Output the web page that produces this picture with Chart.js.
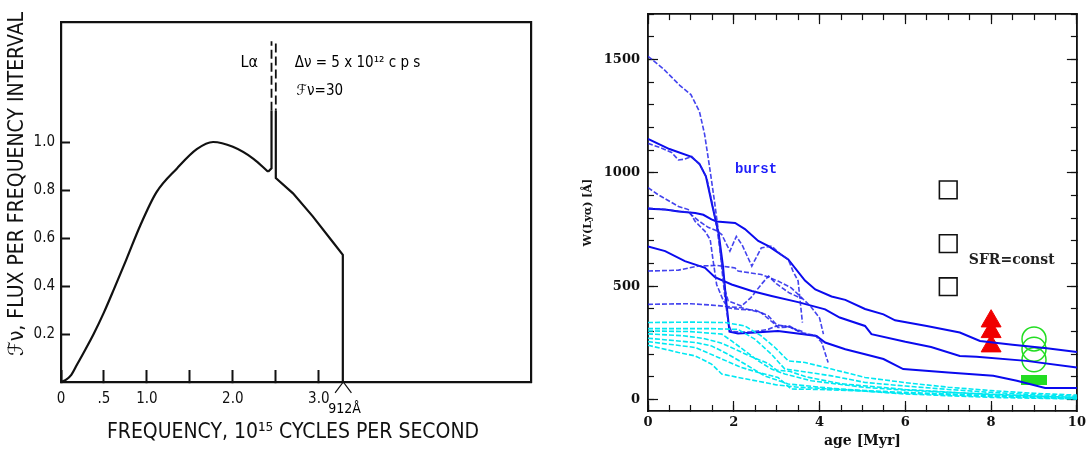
<!DOCTYPE html>
<html>
<head>
<meta charset="utf-8">
<script src="https://cdn.jsdelivr.net/npm/chart.js@4.4.1/dist/chart.umd.min.js"></script>
<style>
  html, body { margin: 0; padding: 0; background: #fff; }
  #wrap { position: relative; width: 1091px; height: 453px; }
  canvas { position: absolute; top: 0; }
  #spectrum { left: 0; }
  #lyman { left: 560px; }
</style>
</head>
<body>
<div id="wrap">
  <canvas id="spectrum" width="560" height="453"></canvas>
  <canvas id="lyman" width="531" height="453"></canvas>
</div>
<script>
// ---------- left panel: stellar continuum with Lyman alpha line ----------
const riseFreq = [0, 0.06, 0.12, 0.19, 0.26, 0.38, 0.5, 0.62, 0.76, 0.92, 1.11, 1.35, 1.58, 1.77, 2.0, 2.24, 2.41];
const riseFlux = [0, 0.01, 0.03, 0.075, 0.12, 0.2, 0.29, 0.39, 0.51, 0.65, 0.79, 0.89, 0.97, 1.0, 0.98, 0.93, 0.876];
const kinkFreq = [2.41, 2.45, 2.45];
const kinkFlux = [0.876, 0.89, 1.13];
const fallFreq = [2.5, 2.5, 2.7, 2.93, 3.17, 3.28, 3.28];
const fallFlux = [1.13, 0.85, 0.786, 0.69, 0.58, 0.53, 0];
const lineFreqA = [2.45, 2.45];
const lineFluxA = [1.13, 1.42];
const lineFreqB = [2.5, 2.5];
const lineFluxB = [1.41, 1.13];
const edgeFreq = [3.19, 3.285, 3.38];
const edgeFlux = [-0.045, 0, -0.045];

const freqTickLabels = { "0": "0", "0.5": ".5", "1": "1.0", "2": "2.0", "3": "3.0" };
const fluxTickLabels = { "0.2": "0.2", "0.4": "0.4", "0.6": "0.6", "0.8": "0.8", "1": "1.0" };

// ---------- right panel: W(Lya) vs age ----------
const ageTicks = [0, 2, 4, 6, 8, 10];
const wTicks = [0, 500, 1000, 1500];
// solid model tracks
const trackTop = [[0,842],[0.4,838],[0.71,830],[1.1,823],[1.29,815],[1.48,795],[1.6,786],[2.03,779],[2.26,752],[2.57,700],[2.81,677],[3.27,618],[3.66,525],[3.9,486],[4.28,455],[4.6,440],[5.06,400],[5.49,376],[5.76,350],[6.5,325],[7.27,296],[7.74,259],[8.5,242],[9.3,227],[10,210]];
const trackMid = [[0,675],[0.4,655],[0.86,611],[1.33,581],[1.56,540],[1.95,508],[2.42,479],[2.88,457],[3.5,430],[4.13,398],[4.47,362],[5.06,325],[5.21,289],[6.0,255],[6.6,232],[7.27,193],[7.66,189],[8.82,171],[10,142]];
const trackLow = [[0,1150],[0.5,1105],[1.0,1072],[1.2,1040],[1.35,985],[1.5,855],[1.65,730],[1.75,585],[1.82,440],[1.9,300],[2.1,292],[2.5,296],[3.03,303],[3.58,289],[3.93,281],[4.13,252],[4.6,222],[5.06,200],[5.49,179],[5.95,135],[7.0,120],[8.05,105],[8.6,83],[9.26,51],[10,51]];
// dashed burst tracks
const burstA = [[0,1514],[0.35,1460],[0.74,1386],[1.0,1345],[1.2,1270],[1.32,1170],[1.44,1020],[1.55,875],[1.65,730],[1.72,580],[1.8,440],[1.88,330],[1.95,300],[2.4,298],[2.8,310],[3.0,325],[3.3,325],[3.6,290],[3.9,283],[4.05,252],[4.2,164]];
const burstB = [[0,1130],[0.3,1110],[0.55,1090],[0.71,1057],[0.85,1060],[1.02,1072],[1.21,1035],[1.37,977],[1.52,845],[1.62,740],[1.72,600],[1.8,480],[1.87,435],[2.18,413],[2.4,450],[2.64,508],[2.81,545],[3.0,510],[3.3,470],[3.6,445]];
const burstC = [[0,935],[0.24,903],[0.71,852],[0.94,838],[1.1,786],[1.33,742],[1.45,706],[1.52,611],[1.6,508],[1.76,435],[1.87,405],[2.14,398],[2.5,395],[2.8,370],[3.0,330],[3.3,320],[3.6,300]];
const burstD = [[0,845],[0.5,836],[0.94,826],[1.17,790],[1.4,760],[1.6,745],[1.72,728],[1.91,655],[2.06,720],[2.2,680],[2.42,589],[2.64,669],[2.88,677],[3.1,640],[3.27,618],[3.38,567],[3.5,523],[3.6,340]];
const burstE = [[0,567],[0.71,571],[1.17,589],[1.6,592],[2.03,581],[2.1,567],[2.64,552],[3.03,523],[3.34,493],[3.58,450],[3.8,410],[4.0,360],[4.09,289]];
const burstF = [[0,420],[0.5,422],[1.0,423],[1.48,417],[2.18,405],[2.64,383],[2.96,332],[3.03,318],[3.3,320],[3.6,295],[3.9,283]];
// low-metallicity (cyan) tracks
const cyanA = [[0,340],[1.0,342],[1.8,340],[2.26,325],[2.64,281],[2.96,230],[3.27,171],[3.66,164],[4.28,135],[5.06,98],[6,75],[7,55],[8,40],[9,28],[10,20]];
const cyanB = [[0,313],[1.48,313],[2.1,310],[2.49,267],[2.88,200],[3.19,135],[3.5,127],[4.28,105],[5.06,76],[6,60],[7,45],[8,32],[9,22],[10,15]];
const cyanC = [[0,303],[1.0,300],[1.72,289],[1.95,259],[2.26,215],[2.57,171],[2.88,135],[3.19,113],[3.81,83],[5.06,54],[6,42],[7,32],[8,24],[9,16],[10,10]];
const cyanD = [[0,290],[0.8,282],[1.3,270],[1.7,250],[2.0,225],[2.4,190],[2.8,160],[3.0,130],[3.3,125],[3.7,100],[4.5,70],[6,45],[8,22],[10,8]];
const cyanE = [[0,271],[1.1,252],[1.48,237],[1.87,200],[2.26,157],[2.72,105],[3.27,69],[4.28,50],[5.06,40],[6,32],[8,18],[10,6]];
const cyanF = [[0,256],[1.1,230],[1.64,186],[2.18,142],[2.57,120],[3.03,98],[3.34,47],[4,45],[5,38],[6,28],[8,14],[10,4]];
const cyanG = [[0,240],[0.71,208],[1.1,193],[1.48,157],[1.72,113],[2.1,98],[2.6,80],[3.0,65],[3.5,55],[4.5,45],[6,25],[8,10],[10,3]];
// observed objects
const squareAge = [7, 7, 7];
const squareW = [925, 688, 498];
const triangleAge = [8, 8, 8];
const triangleW = [346, 299, 236];
const circleAge = [9, 9, 9];
const circleW = [268, 222, 176];
const barAge = [9];
const barW = [88];

const pts = (xs, ys) => xs.map((x, i) => ({ x: x, y: ys[i] }));
const xy = (pairs) => pairs.map(([x, y]) => ({ x: x, y: y }));

// text written at data coordinates
const notesPlugin = {
  id: "notes",
  afterDatasetsDraw(chart, args, opts) {
    const { ctx, scales } = chart;
    ctx.save();
    (opts.items || []).forEach((n) => {
      ctx.font = n.font;
      ctx.fillStyle = n.color || "#000";
      ctx.textAlign = n.align || "left";
      ctx.textBaseline = "middle";
      ctx.fillText(n.text, scales.x.getPixelForValue(n.x), scales.y.getPixelForValue(n.y));
    });
    ctx.restore();
  },
};

// fixed box sizes so the plot areas land where the figure has them
const fixSize = (size) => (s) => {
  if (s.isHorizontal()) s.height = size;
  else s.width = size;
  s.paddingLeft = 0;
  s.paddingRight = 0;
  s.paddingTop = 0;
  s.paddingBottom = 0;
};

const leftFont = "'DejaVu Sans Condensed', 'DejaVu Sans', sans-serif";
const rightFont = "'DejaVu Serif', 'Liberation Serif', serif";

let drawSpectrum = () => {
  const ink = "#111";
  const solid = { borderColor: ink, borderWidth: 2.2, pointRadius: 0, showLine: true, fill: false };

  new Chart(document.getElementById("spectrum"), {
    type: "scatter",
    data: {
      datasets: [
        { ...solid, data: pts(riseFreq, riseFlux), tension: 0.4, cubicInterpolationMode: "monotone" },
        { ...solid, data: pts(kinkFreq, kinkFlux) },
        { ...solid, data: pts(fallFreq, fallFlux) },
        { ...solid, data: pts(lineFreqA, lineFluxA), borderWidth: 1.8, borderDash: [9, 4] },
        { ...solid, data: pts(lineFreqB, lineFluxB), borderWidth: 1.8, borderDash: [9, 4] },
        { ...solid, data: pts(edgeFreq, edgeFlux), borderWidth: 1.2, clip: false },
      ],
    },
    options: {
      responsive: false,
      animation: false,
      devicePixelRatio: 1,
      events: [],
      layout: { padding: { top: 22, right: 29, left: 0, bottom: 0 } },
      plugins: {
        legend: { display: false },
        tooltip: { enabled: false },
        notes: {
          items: [
            { text: "Lα", x: 2.19, y: 1.33, font: "16px " + leftFont, align: "center" },
            { text: "Δν = 5 x 10¹² c p s", x: 2.72, y: 1.33, font: "15px " + leftFont },
            { text: "ℱν=30", x: 2.74, y: 1.21, font: "15px " + leftFont },
            { text: "912Å", x: 3.3, y: -0.115, font: "14px " + leftFont, align: "center" },
          ],
        },
      },
      scales: {
        x: {
          type: "linear",
          position: "bottom",
          min: 0,
          max: 5.47,
          afterFit: fixSize(71),
          grid: {
            drawOnChartArea: false,
            tickLength: -12,
            tickWidth: 2,
            tickColor: (c) => (c.tick && c.tick.value <= 3 ? ink : "rgba(0,0,0,0)"),
          },
          border: { color: ink, width: 2.2 },
          ticks: {
            stepSize: 0.5,
            includeBounds: false,
            padding: 20,
            maxRotation: 0,
            autoSkip: false,
            color: ink,
            font: { family: leftFont, size: 15 },
            callback: (v) => freqTickLabels[String(v)] || "",
          },
          title: {
            display: true,
            text: "FREQUENCY, 10¹⁵ CYCLES PER SECOND ",
            color: ink,
            font: { family: leftFont, size: 21 },
            padding: { top: 0, bottom: 8 },
          },
        },
        y: {
          type: "linear",
          position: "left",
          min: 0,
          max: 1.5,
          afterFit: fixSize(61),
          grid: {
            drawOnChartArea: false,
            tickLength: -9,
            tickWidth: 2,
            tickColor: (c) => (c.tick && c.tick.value > 0.1 && c.tick.value < 1.05 ? ink : "rgba(0,0,0,0)"),
          },
          border: { color: ink, width: 2.2 },
          ticks: {
            stepSize: 0.2,
            includeBounds: false,
            padding: 15,
            autoSkip: false,
            color: ink,
            font: { family: leftFont, size: 15 },
            callback: (v) => fluxTickLabels[String(v)] || "",
          },
          title: {
            display: true,
            text: "      ℱν, FLUX PER FREQUENCY INTERVAL",
            color: ink,
            font: { family: leftFont, size: 21 },
            padding: { top: 5, bottom: 0 },
          },
        },
        top: {
          type: "linear",
          position: "top",
          display: true,
          afterFit: fixSize(0),
          grid: { display: false },
          ticks: { display: false },
          border: { color: ink, width: 2.2 },
        },
        right: {
          type: "linear",
          position: "right",
          display: true,
          afterFit: fixSize(0),
          grid: { display: false },
          ticks: { display: false },
          border: { color: ink, width: 2.2 },
        },
      },
    },
    plugins: [notesPlugin],
  });
};

let drawLyman = () => {
  const ink = "#111";
  const blueSolid = "rgb(10,10,238)";
  const blueDash = "rgba(35,35,235,0.85)";
  const cyan = "rgb(0,232,242)";
  const green = "rgb(34,221,34)";

  const track = (pairs) => ({ data: xy(pairs), showLine: true, pointRadius: 0, borderColor: blueSolid, borderWidth: 2 });
  const burst = (pairs) => ({ data: xy(pairs), showLine: true, pointRadius: 0, borderColor: blueDash, borderWidth: 1.6, borderDash: [5, 2] });
  const low = (pairs) => ({ data: xy(pairs), showLine: true, pointRadius: 0, borderColor: cyan, borderWidth: 1.6, borderDash: [5, 2] });

  // wide green bar used as a marker
  const greenBar = document.createElement("canvas");
  greenBar.width = 26;
  greenBar.height = 10;
  const g = greenBar.getContext("2d");
  g.fillStyle = green;
  g.fillRect(0, 0, 26, 10);

  // tick axes that take no room
  const tickAxis = (position, step, len, min, max, list) => ({
    type: "linear",
    position: position,
    min: min,
    max: max,
    display: true,
    weight: 0,
    afterFit: fixSize(0),
    afterBuildTicks: list ? (s) => { s.ticks = list.map((v) => ({ value: v })); } : undefined,
    grid: { drawOnChartArea: false, tickLength: -len, color: ink, tickWidth: 1.2 },
    border: { color: ink, width: 1.6 },
    ticks: { stepSize: step, display: false, includeBounds: false, autoSkip: false },
  });

  new Chart(document.getElementById("lyman"), {
    type: "scatter",
    data: {
      datasets: [
        low(cyanA), low(cyanB), low(cyanC), low(cyanD), low(cyanE), low(cyanF), low(cyanG),
        burst(burstA), burst(burstB), burst(burstC), burst(burstD), burst(burstE), burst(burstF),
        track(trackTop), track(trackMid), track(trackLow),
        {
          data: pts(squareAge, squareW),
          pointStyle: "rect",
          pointRadius: 12.5,
          pointBorderWidth: 1.6,
          pointBorderColor: ink,
          pointBackgroundColor: "rgba(0,0,0,0)",
        },
        {
          data: pts(triangleAge, triangleW),
          pointStyle: "triangle",
          pointRadius: 11.5,
          pointBorderWidth: 1,
          pointBorderColor: "rgb(240,0,0)",
          pointBackgroundColor: "rgb(240,0,0)",
        },
        {
          data: pts(circleAge, circleW),
          pointStyle: "circle",
          pointRadius: 12,
          pointBorderWidth: 1.5,
          pointBorderColor: green,
          pointBackgroundColor: "rgba(0,0,0,0)",
        },
        { data: pts(barAge, barW), pointStyle: greenBar, pointRadius: 10 },
      ],
    },
    options: {
      responsive: false,
      animation: false,
      devicePixelRatio: 1,
      events: [],
      layout: { padding: { top: 13, right: 14, left: 0, bottom: 0 } },
      plugins: {
        legend: { display: false },
        tooltip: { enabled: false },
        notes: {
          items: [
            { text: "burst", x: 2.52, y: 1015, color: "rgb(30,30,250)", font: "bold 14px 'Liberation Mono', monospace", align: "center" },
            { text: "SFR=const", x: 8.48, y: 615, color: "#222", font: "bold 14px " + rightFont, align: "center" },
          ],
        },
      },
      scales: {
        x: {
          type: "linear",
          position: "bottom",
          min: 0,
          max: 10,
          weight: 1,
          afterFit: fixSize(42),
          afterBuildTicks: (s) => { s.ticks = ageTicks.map((v) => ({ value: v })); },
          grid: { drawOnChartArea: false, tickLength: -10, color: ink, tickWidth: 1.2 },
          border: { color: ink, width: 1.6 },
          ticks: {
            padding: 14,
            maxRotation: 0,
            autoSkip: false,
            color: ink,
            font: { family: rightFont, size: 13, weight: "bold" },
            callback: (v) => String(v),
          },
          title: {
            display: true,
            text: "age [Myr]",
            color: ink,
            font: { family: rightFont, size: 14, weight: "bold" },
            padding: { top: 0, bottom: 3 },
          },
        },
        y: {
          type: "linear",
          position: "left",
          min: -50,
          max: 1700,
          weight: 1,
          afterFit: fixSize(88),
          afterBuildTicks: (s) => { s.ticks = wTicks.map((v) => ({ value: v })); },
          grid: { drawOnChartArea: false, tickLength: -10, color: ink, tickWidth: 1.2 },
          border: { color: ink, width: 1.6 },
          ticks: {
            padding: 18,
            autoSkip: false,
            color: ink,
            font: { family: rightFont, size: 13, weight: "bold" },
            callback: (v) => String(v),
          },
          title: {
            display: true,
            text: "W(Lyα) [Å]",
            color: ink,
            font: { family: rightFont, size: 11, weight: "bold" },
            padding: { top: 22, bottom: 0 },
          },
        },
        xMinor: tickAxis("bottom", 0.5, 6, 0, 10),
        xTop: tickAxis("top", 2, 10, 0, 10, ageTicks),
        xTopMinor: tickAxis("top", 0.5, 6, 0, 10),
        yMinor: tickAxis("left", 100, 6, -50, 1700),
        yRight: tickAxis("right", 500, 10, -50, 1700, wTicks),
        yRightMinor: tickAxis("right", 100, 6, -50, 1700),
      },
    },
    plugins: [notesPlugin],
  });
};

drawSpectrum();
drawLyman();
</script>
</body>
</html>
